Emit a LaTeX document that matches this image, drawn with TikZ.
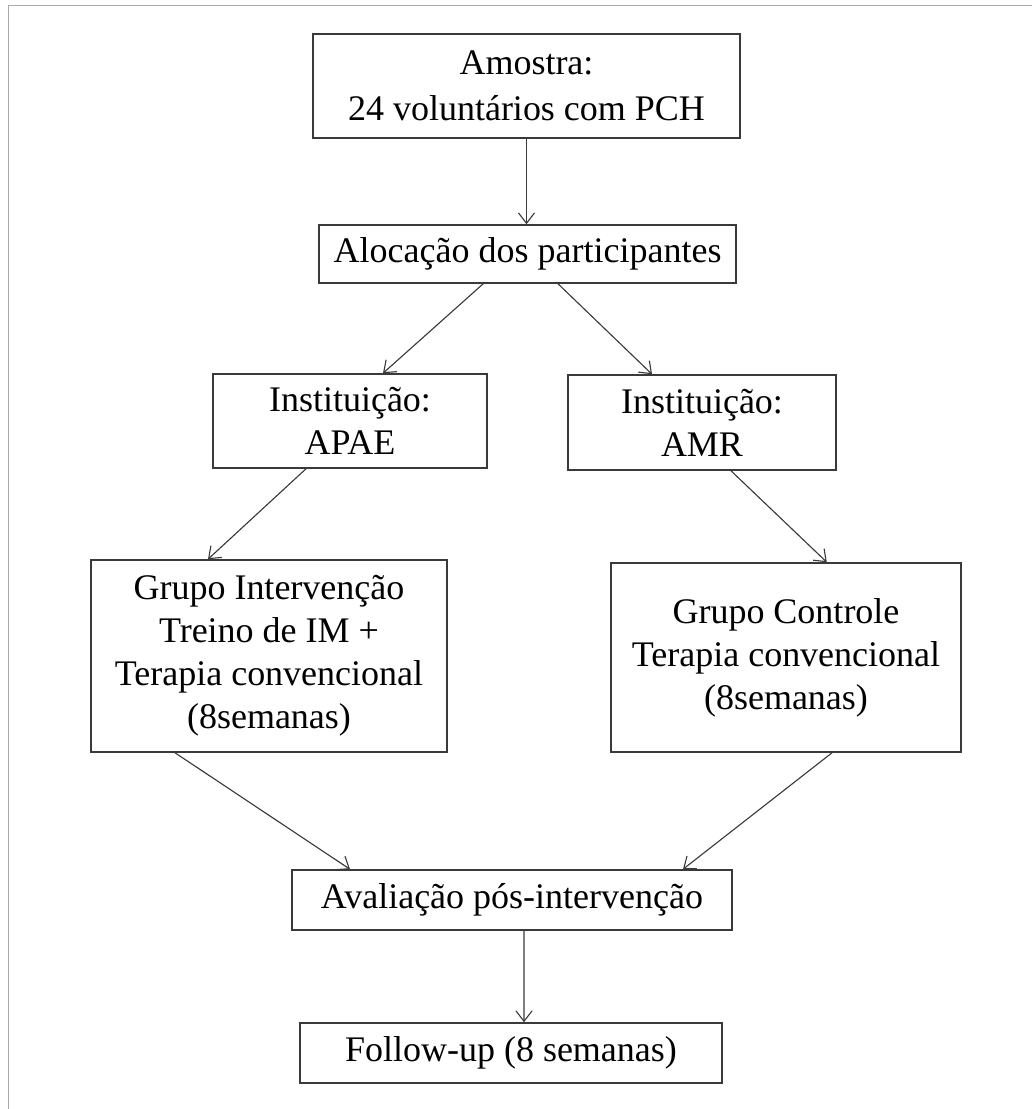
\documentclass[tikz,border=0pt]{standalone}
\usepackage{fontspec}
\setmainfont{Liberation Serif}
\usetikzlibrary{arrows.meta}
\definecolor{boxline}{RGB}{58,58,58}
\definecolor{frameline}{RGB}{170,170,170}

\begin{document}
\begin{tikzpicture}[
    box/.style={draw=boxline,line width=1.1pt,align=center,inner sep=0pt,
        font=\fontsize{25.6}{30.6}\selectfont},
    link/.style={->,draw=boxline,line width=0.8pt},
    >={Straight Barb[length=2.6mm,width=4mm]}]
    \useasboundingbox (0,0) rectangle (25.8,-27.725);
    	\draw[frameline,line width=1.1pt] (0.2125,-27.725) -- (0.2125,-0.1375) -- (25.8,-0.1375);
    	\draw (13.1625,-2.15) node[box,minimum width=10.675cm,minimum height=2.6cm] (amostra)
    		{Amostra:\\[2pt]24 voluntários com PCH};
    	\draw (13.19,-6.35) node[box,minimum width=10.425cm,minimum height=1.45cm] (alocacao)
    		{Alocação dos participantes};
    	\draw (8.75,-10.525) node[box,minimum width=6.85cm,minimum height=2.35cm] (apae)
    		{Instituição:\\APAE};
    	\draw (17.55,-10.5625) node[box,minimum width=6.7cm,minimum height=2.375cm] (amr)
    		{Instituição:\\AMR};
    	\draw (6.725,-16.4) node[box,minimum width=8.9cm,minimum height=4.8cm] (intervencao)
    		{Grupo Intervenção\\Treino de IM +\\Terapia convencional\\(8semanas)};
    	\draw (19.65,-16.4375) node[box,minimum width=8.75cm,minimum height=4.725cm] (controle)
    		{Grupo Controle\\Terapia convencional\\(8semanas)};
    	\draw (12.8,-22.5) node[box,minimum width=11cm,minimum height=1.5cm] (avaliacao)
    		{Avaliação pós-intervenção};
    	\draw (12.775,-26.325) node[box,minimum width=10.55cm,minimum height=1.5cm] (followup)
    		{Follow-up (8 semanas)};
    	% setas
    	\draw[link] (amostra.south) -- (amostra.south |- alocacao.north);
    	\draw[link] ([xshift=-1.11cm]alocacao.south) -- ([xshift=0.825cm]apae.north);
    	\draw[link] ([xshift=0.76cm]alocacao.south) -- ([xshift=-1.25cm]amr.north);
    	\draw[link] ([xshift=-1.1cm]apae.south) -- ([xshift=-1.525cm]intervencao.north);
    	\draw[link] ([xshift=0.725cm]amr.south) -- ([xshift=1.02cm]controle.north);
    	\draw[link] ([xshift=-2.35cm]intervencao.south) -- ([xshift=-4.05cm]avaliacao.north);
    	\draw[link] ([xshift=1.15cm]controle.south) -- ([xshift=4.275cm]avaliacao.north);
    	\draw[link] ([xshift=0.3cm]avaliacao.south) -- ([xshift=0.325cm]followup.north);
\end{tikzpicture}
\end{document}
